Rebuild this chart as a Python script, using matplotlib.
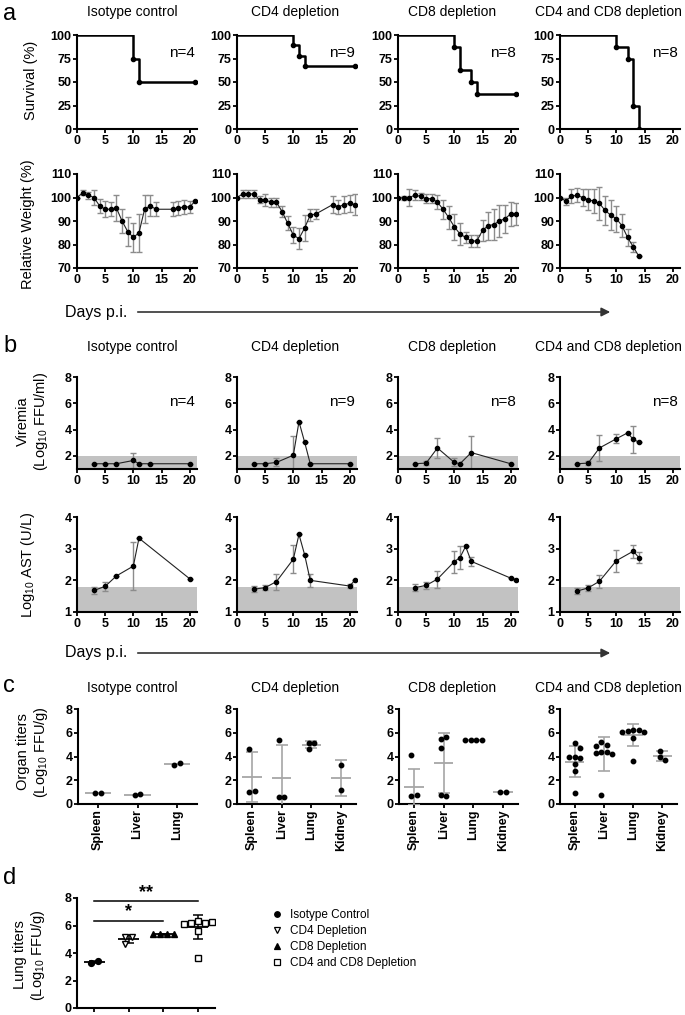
import numpy as np
import matplotlib
matplotlib.use('Agg')
import matplotlib.pyplot as plt
from matplotlib.patches import FancyArrowPatch
from matplotlib.lines import Line2D

plt.rcParams['font.family'] = ['Liberation Sans', 'DejaVu Sans']
plt.rcParams['mathtext.fontset'] = 'custom'
plt.rcParams['mathtext.rm'] = 'Liberation Sans'
plt.rcParams['mathtext.it'] = 'Liberation Sans:italic'
plt.rcParams['mathtext.bf'] = 'Liberation Sans:bold'

W, H = 685, 1015

groups = ['Isotype control', 'CD4 depletion', 'CD8 depletion', 'CD4 and CD8 depletion']
n_mice = [4, 9, 8, 8]

# survival (steps)
surv_days = [[0, 10, 11, 21], [0, 10, 11, 12, 21], [0, 10, 11, 13, 14, 21], [0, 10, 12, 13, 14]]
surv_pct = [[100, 75, 50, 50], [100, 88.9, 77.8, 66.7, 66.7],
            [100, 87.5, 62.5, 50, 37.5, 37.5], [100, 87.5, 75, 25, 0]]

# relative weight, mean and sd
wt_days = [[0, 1, 2, 3, 4, 5, 6, 7, 8, 9, 10, 11, 12, 13, 14, 17, 18, 19, 20, 21],
           [0, 1, 2, 3, 4, 5, 6, 7, 8, 9, 10, 11, 12, 13, 14, 17, 18, 19, 20, 21],
           list(range(22)),
           list(range(15))]
wt_mean = [[100, 102, 101, 100, 96.5, 95, 95, 95.5, 90, 85.5, 83, 85, 95, 96.5, 95, 95, 95.5, 96, 96, 98.5],
           [100, 101.5, 101.5, 101.5, 99, 99, 98, 98, 94, 89, 84, 82.5, 87, 92.5, 93, 97, 96, 97, 97.5, 97],
           [100, 99.8, 100, 101, 100.5, 99.5, 99.5, 98, 95, 91.5, 87.5, 84.5, 83, 81.5, 81.5, 86, 88, 88.5,
            90, 91, 93, 93],
           [100, 98.5, 100.5, 101, 100, 99, 98.5, 97.5, 94.5, 92.5, 91, 88, 83, 79, 75]]
wt_sd = [[0, 1, 1.5, 3, 3, 3.5, 3, 5.5, 5, 6, 6, 8, 6, 4.5, 3, 3, 3, 3, 2.5, 0],
         [0, 1.5, 1.5, 1.5, 1.5, 2.5, 2, 2, 2.5, 3, 3.5, 4.5, 5.5, 2.5, 2, 3.5, 3, 3.5, 3.5, 4.5],
         [0, 1, 3.5, 2, 1.5, 2, 2, 3, 4, 5, 5.5, 4.5, 2.5, 2.5, 2.5, 4.5, 6, 6.5, 7, 6, 5, 4.5],
         [0, 1.5, 3, 3, 3.5, 4.5, 5, 7, 6, 6.5, 5.5, 5, 3.5, 2, 0]]

# viremia (log10 FFU/ml)
vir_days = [[3, 5, 7, 10, 11, 13, 20], [3, 5, 7, 10, 11, 12, 13, 20],
            [3, 5, 7, 10, 11, 13, 20], [3, 5, 7, 10, 12, 13, 14]]
vir_mean = [[1.4, 1.4, 1.4, 1.65, 1.4, 1.4, 1.4], [1.4, 1.4, 1.5, 2.05, 4.6, 3.05, 1.4, 1.4],
            [1.4, 1.45, 2.6, 1.5, 1.4, 2.25, 1.4], [1.4, 1.45, 2.6, 3.3, 3.75, 3.25, 3.05]]
vir_sd = [[0, 0, 0, 0.55, 0, 0, 0], [0, 0, 0.3, 1.45, 0, 0, 0, 0],
          [0, 0.15, 0.78, 0.3, 0, 1.25, 0], [0, 0.15, 1.0, 0.35, 0, 1.0, 0]]

# AST (log10 U/L)
ast_days = [[3, 5, 7, 10, 11, 20], [3, 5, 7, 10, 11, 12, 13, 20, 21],
            [3, 5, 7, 10, 11, 12, 13, 20, 21], [3, 5, 7, 10, 13, 14]]
ast_mean = [[1.68, 1.81, 2.14, 2.45, 3.33, 2.05],
            [1.72, 1.77, 1.96, 2.67, 3.45, 2.81, 2.0, 1.82, 2.02],
            [1.77, 1.84, 2.04, 2.59, 2.72, 3.07, 2.6, 2.07, 2.02],
            [1.66, 1.76, 1.97, 2.62, 2.92, 2.72]]
ast_sd = [[0.1, 0.15, 0, 0.76, 0, 0], [0.1, 0.07, 0.25, 0.45, 0, 0, 0.2, 0.05, 0],
          [0.1, 0.1, 0.27, 0.35, 0.37, 0, 0.15, 0, 0], [0.1, 0.1, 0.2, 0.35, 0.2, 0.18]]

# organ titers (log10 FFU/g)
organ_names = [['Spleen', 'Liver', 'Lung'], ['Spleen', 'Liver', 'Lung', 'Kidney'],
               ['Spleen', 'Liver', 'Lung', 'Kidney'], ['Spleen', 'Liver', 'Lung', 'Kidney']]
organ_pts = [
    [[0.95, 0.95], [0.75, 0.85], [3.25, 3.45]],
    [[4.65, 1.05, 1.1], [5.35, 0.55, 0.55], [5.15, 5.15, 4.65], [3.25, 1.15]],
    [[4.15, 0.7, 0.75], [5.45, 5.65, 4.75, 0.75, 0.65], [5.35, 5.35, 5.35, 5.35], [1.0, 1.0]],
    [[5.1, 4.75, 4.0, 3.9, 3.95, 3.4, 2.75, 0.95], [5.2, 4.95, 4.85, 4.4, 4.35, 4.3, 4.25, 0.75],
     [6.25, 6.2, 6.15, 6.1, 6.05, 5.55, 3.65], [4.5, 3.95, 3.7]],
]
organ_mean = [[0.95, 0.8, 3.35], [2.27, 2.15, 5.0, 2.2], [1.42, 3.45, 5.35, 1.0], [3.55, 4.2, 5.8, 4.05]]
organ_sd = [[0, 0, 0], [2.1, 2.8, 0.3, 1.5], [1.5, 2.55, 0, 0], [1.3, 1.45, 0.9, 0.4]]

# lung titers (panel d)
lung_labels = ['Isotype Control', 'CD4 Depletion', 'CD8 Depletion', 'CD4 and CD8 Depletion']
lung_pts = [[3.25, 3.45], [5.15, 5.15, 4.65], [5.35, 5.35, 5.35, 5.35],
            [6.3, 6.2, 6.15, 6.25, 6.1, 5.6, 3.65]]
lung_mean = [3.35, 5.0, 5.35, 5.9]
lung_sd = [0.1, 0.3, 0.05, 0.85]
sig_pairs = [(0, 3, 7.75, '**'), (0, 2, 6.35, '*')]

col_left = [77, 237, 398, 560]
col_w = 120
title_x = [132, 295, 452, 608]
GREY = '#8c8c8c'
BAND = '#c2c2c2'
YLAB = 10.5


def add_ax(left, top, width, height):
    ax = fig.add_axes([left / W, 1 - (top + height) / H, width / W, height / H])
    for s in ['top', 'right']:
        ax.spines[s].set_visible(False)
    for s in ['left', 'bottom']:
        ax.spines[s].set_linewidth(1.5)
    ax.tick_params(direction='out', length=3, width=1.3, pad=1)
    return ax


def set_ticks(ax, xt, yt, xlabels=None, xrot=0):
    if xlabels is None:
        xlabels = [str(t) for t in xt]
    ax.set_xticks(xt, labels=xlabels, fontsize=9, fontweight='bold', rotation=xrot)
    ax.set_yticks(yt, labels=[str(t) for t in yt], fontsize=9, fontweight='bold')


def ftext(x, y, s, **kw):
    fig.text(x / W, 1 - y / H, s, **kw)


def swarm(vals, d, tol):
    placed = []
    offs = []
    cands = [0]
    for i in range(1, 12):
        cands += [i * d, -i * d]
    for v in vals:
        for c in cands:
            if all(abs(c - pc) > d * 0.95 or abs(v - pv) >= tol for pc, pv in placed):
                break
        placed.append((c, v))
        offs.append(c)
    offs = np.array(offs)
    return offs - (offs.max() + offs.min()) / 2


def time_panel(ax, days, mean, sd):
    ax.errorbar(days, mean, yerr=sd, fmt='none', ecolor=GREY, elinewidth=1, capsize=2.5, capthick=1, zorder=2)
    ax.plot(days, mean, '-', color='#222222', lw=0.8, zorder=3)
    ax.plot(days, mean, 'o', color='black', ms=3.0, zorder=4)
    ax.set_xlim(0, 21.3)


fig = plt.figure(figsize=(W / 100, H / 100), dpi=100)

# ---------------- panel a ----------------
for i in range(4):
    ax = add_ax(col_left[i], 35, col_w, 94)
    ax.step(surv_days[i], surv_pct[i], where='post', color='black', lw=1.8, zorder=3)
    ax.plot(surv_days[i][1:], surv_pct[i][1:], 'o', color='black', ms=3.0, zorder=4)
    ax.set_xlim(0, 21.3)
    ax.set_ylim(0, 100)
    set_ticks(ax, [0, 5, 10, 15, 20], [0, 25, 50, 75, 100])
    ax.text(21, 81, 'n=%d' % n_mice[i], ha='right', va='center', fontsize=11)
    ftext(title_x[i], 12, groups[i], ha='center', va='center', fontsize=10)

    ax = add_ax(col_left[i], 174, col_w, 94)
    time_panel(ax, wt_days[i], wt_mean[i], wt_sd[i])
    ax.set_ylim(70, 110)
    set_ticks(ax, [0, 5, 10, 15, 20], [70, 80, 90, 100, 110])

ftext(31, 80, 'Survival (%)', rotation=90, ha='center', va='center', fontsize=YLAB)
ftext(28, 224, 'Relative Weight (%)', rotation=90, ha='center', va='center', fontsize=YLAB)

# ---------------- panel b ----------------
for i in range(4):
    ax = add_ax(col_left[i], 377, col_w, 92)
    ax.axhspan(1, 2, color=BAND, lw=0, zorder=0)
    time_panel(ax, vir_days[i], vir_mean[i], vir_sd[i])
    ax.set_ylim(1, 8)
    set_ticks(ax, [0, 5, 10, 15, 20], [2, 4, 6, 8])
    ax.text(21, 6.1, 'n=%d' % n_mice[i], ha='right', va='center', fontsize=11)
    ftext(title_x[i], 347, groups[i], ha='center', va='center', fontsize=10)

    ax = add_ax(col_left[i], 517, col_w, 95)
    ax.axhspan(1, 1.8, color=BAND, lw=0, zorder=0)
    time_panel(ax, ast_days[i], ast_mean[i], ast_sd[i])
    ax.set_ylim(1, 4)
    set_ticks(ax, [0, 5, 10, 15, 20], [1, 2, 3, 4])

ftext(33, 421, 'Viremia\n(Log$_{10}$ FFU/ml)', rotation=90, ha='center', va='center',
      fontsize=YLAB, linespacing=1.15)
ftext(28, 565, 'Log$_{10}$ AST (U/L)', rotation=90, ha='center', va='center', fontsize=YLAB)

# Days p.i. arrows
for y in [312, 653]:
    ftext(65, y, 'Days p.i.', ha='left', va='center', fontsize=11.5)
    arr = FancyArrowPatch((135 / W, 1 - y / H), (613 / W, 1 - y / H), transform=fig.transFigure,
                          arrowstyle='-|>', mutation_scale=13, color='#333333', lw=1.2)
    fig.add_artist(arr)

# ---------------- panel c ----------------
for i in range(4):
    ax = add_ax(col_left[i] + (1 if i in (0, 2) else 0), 709, 119 if i != 3 else 117, 95)
    nc = len(organ_names[i])
    xs = np.arange(nc)
    px_unit = 119 / nc
    for j in range(nc):
        off = swarm(organ_pts[i][j], 5.5 / px_unit, 0.45)
        ax.plot(xs[j] + off, organ_pts[i][j], 'o', color='black', ms=3.2, zorder=4, clip_on=False)
        ax.hlines(organ_mean[i][j], xs[j] - 0.33, xs[j] + 0.33, color='#a6a6a6', lw=1.3, zorder=3)
        if organ_sd[i][j] > 0:
            ax.errorbar(xs[j], organ_mean[i][j], yerr=organ_sd[i][j], fmt='none', ecolor='#a6a6a6',
                        elinewidth=1.2, capsize=4.5 * 30 / px_unit, capthick=1.2, zorder=3)
    ax.set_xlim(-0.5, nc - 0.5)
    ax.set_ylim(0, 8)
    set_ticks(ax, list(xs), [0, 2, 4, 6, 8], xlabels=organ_names[i], xrot=90)
    ftext(title_x[i], 688, groups[i], ha='center', va='center', fontsize=10)

ftext(33, 752, 'Organ titers\n(Log$_{10}$ FFU/g)', rotation=90, ha='center', va='center',
      fontsize=YLAB, linespacing=1.15)

# ---------------- panel d ----------------
ax = add_ax(77, 898, 138, 110)
markers = [dict(marker='o', mfc='black', mec='black'),
           dict(marker='v', mfc='white', mec='black'),
           dict(marker='^', mfc='black', mec='black'),
           dict(marker='s', mfc='white', mec='black')]
handles = []
for j in range(4):
    off = swarm(lung_pts[j], 0.2, 0.35)
    ax.plot(j + off, lung_pts[j], ls='none', ms=4.2, mew=1, zorder=4, **markers[j])
    ax.hlines(lung_mean[j], j - 0.3, j + 0.3, color='black', lw=1.3, zorder=3)
    ax.errorbar(j, lung_mean[j], yerr=lung_sd[j], fmt='none', ecolor='black', elinewidth=1.1,
                capsize=3.5, capthick=1.1, zorder=3)
    handles.append(Line2D([], [], ls='none', ms=4, mew=0.9, label=lung_labels[j], **markers[j]))
for a, b, yv, star in sig_pairs:
    ax.plot([a, b], [yv, yv], color='black', lw=1.1, clip_on=False)
    ax.text((a + b) / 2, yv + 0.05, star, ha='center', va='bottom', fontsize=13, fontweight='bold')
ax.set_xlim(-0.5, 3.5)
ax.set_ylim(0, 8)
set_ticks(ax, list(range(4)), [0, 2, 4, 6, 8], xlabels=['', '', '', ''])
fig.legend(handles=handles, loc='upper left', bbox_to_anchor=(266 / W, 1 - 904 / H), frameon=False,
           fontsize=8.5, handlelength=1, handletextpad=0.6, labelspacing=0.36, borderaxespad=0)

ftext(30, 955, 'Lung titers\n(Log$_{10}$ FFU/g)', rotation=90, ha='center', va='center',
      fontsize=YLAB, linespacing=1.15)

# panel letters
for s, y in [('a', 14), ('b', 346), ('c', 686), ('d', 878)]:
    ftext(3, y, s, ha='left', va='center', fontsize=17)

fig.savefig('out.png', dpi=100)
